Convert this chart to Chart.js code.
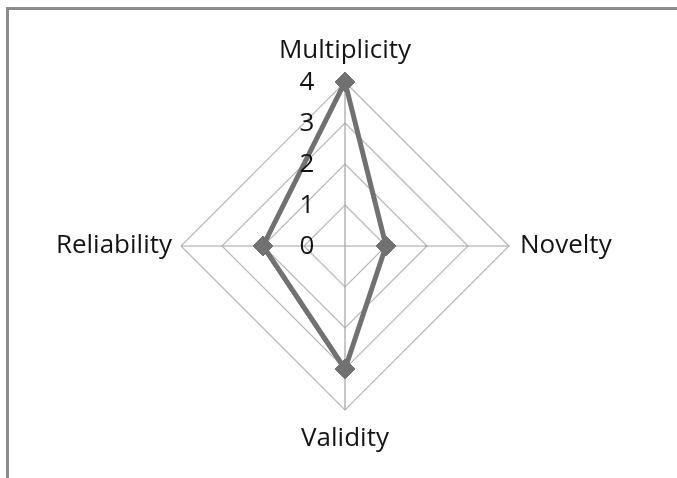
<!DOCTYPE html>
<html>
<head>
<meta charset="utf-8">
<script src="https://cdn.jsdelivr.net/npm/chart.js@4/dist/chart.umd.min.js"></script>
<style>
  html, body { margin: 0; padding: 0; background: #fff; }
  #wrap { position: relative; width: 677px; height: 478px; overflow: hidden; }
  #frame { position: absolute; left: 6px; top: 7px; width: 700px; height: 500px;
           border-left: 3px solid #8c8c8c; border-top: 3px solid #8c8c8c; box-sizing: border-box; }
  canvas { position: absolute; left: 0; top: 0; }
</style>
</head>
<body>
<div id="wrap">
  <div id="frame"></div>
  <canvas id="c" width="677" height="478"></canvas>
</div>
<script>
const categories = ["Multiplicity", "Novelty", "Validity", "Reliability"];
const values = [4, 1, 3, 2];
const tickLabels = ["0", "1", "2", "3", "4"];

const FONT = "'Open Sans', Lato, sans-serif";
const FONT_SIZE = 26;
const TEXT_COLOR = "#141414";

const labelPlugin = {
  id: 'customLabels',
  afterDraw(chart) {
    const scale = chart.scales.r;
    const ctx = chart.ctx;
    ctx.save();
    ctx.fillStyle = TEXT_COLOR;
    ctx.font = FONT_SIZE + "px " + FONT;
    tickLabels.forEach((t) => {
      const v = Number(t);
      const d = scale.getDistanceFromCenterForValue(v);
      ctx.textAlign = "center";
      ctx.textBaseline = "middle";
      ctx.fillText(t, scale.xCenter - 38, scale.yCenter - d + 1);
    });
    const R = scale.drawingArea;
    categories.forEach((lab, i) => {
      const p = scale.getPointPosition(i, R);
      let x = p.x, y = p.y;
      ctx.textBaseline = "middle";
      if (i === 0) { ctx.textAlign = "center"; y -= 31; }
      else if (i === 1) { ctx.textAlign = "left"; x += 11; }
      else if (i === 2) { ctx.textAlign = "center"; y += 29; }
      else { ctx.textAlign = "right"; x -= 9; }
      ctx.fillText(lab, x, y);
    });
    ctx.restore();
  }
};

new Chart(document.getElementById("c"), {
  type: "radar",
  data: {
    labels: categories,
    datasets: [{
      data: values,
      borderColor: "#717171",
      backgroundColor: "rgba(0,0,0,0)",
      borderWidth: 5,
      fill: false,
      pointStyle: "rectRot",
      pointRadius: 10,
      pointBackgroundColor: "#717171",
      pointBorderColor: "#717171",
      pointBorderWidth: 1,
      tension: 0
    }]
  },
  options: {
    responsive: false,
    animation: false,
    events: [],
    layout: { padding: { left: 181, right: 168, top: 82, bottom: 68 } },
    plugins: { legend: { display: false }, tooltip: { enabled: false } },
    scales: {
      r: {
        min: 0, max: 4,
        ticks: { display: false, stepSize: 1 },
        grid: { color: "#b6b6b6", lineWidth: 1.2, circular: false },
        angleLines: { color: "#a2a2a2", lineWidth: 1.2 },
        pointLabels: { display: false }
      }
    }
  },
  plugins: [labelPlugin]
});
</script>
</body>
</html>
